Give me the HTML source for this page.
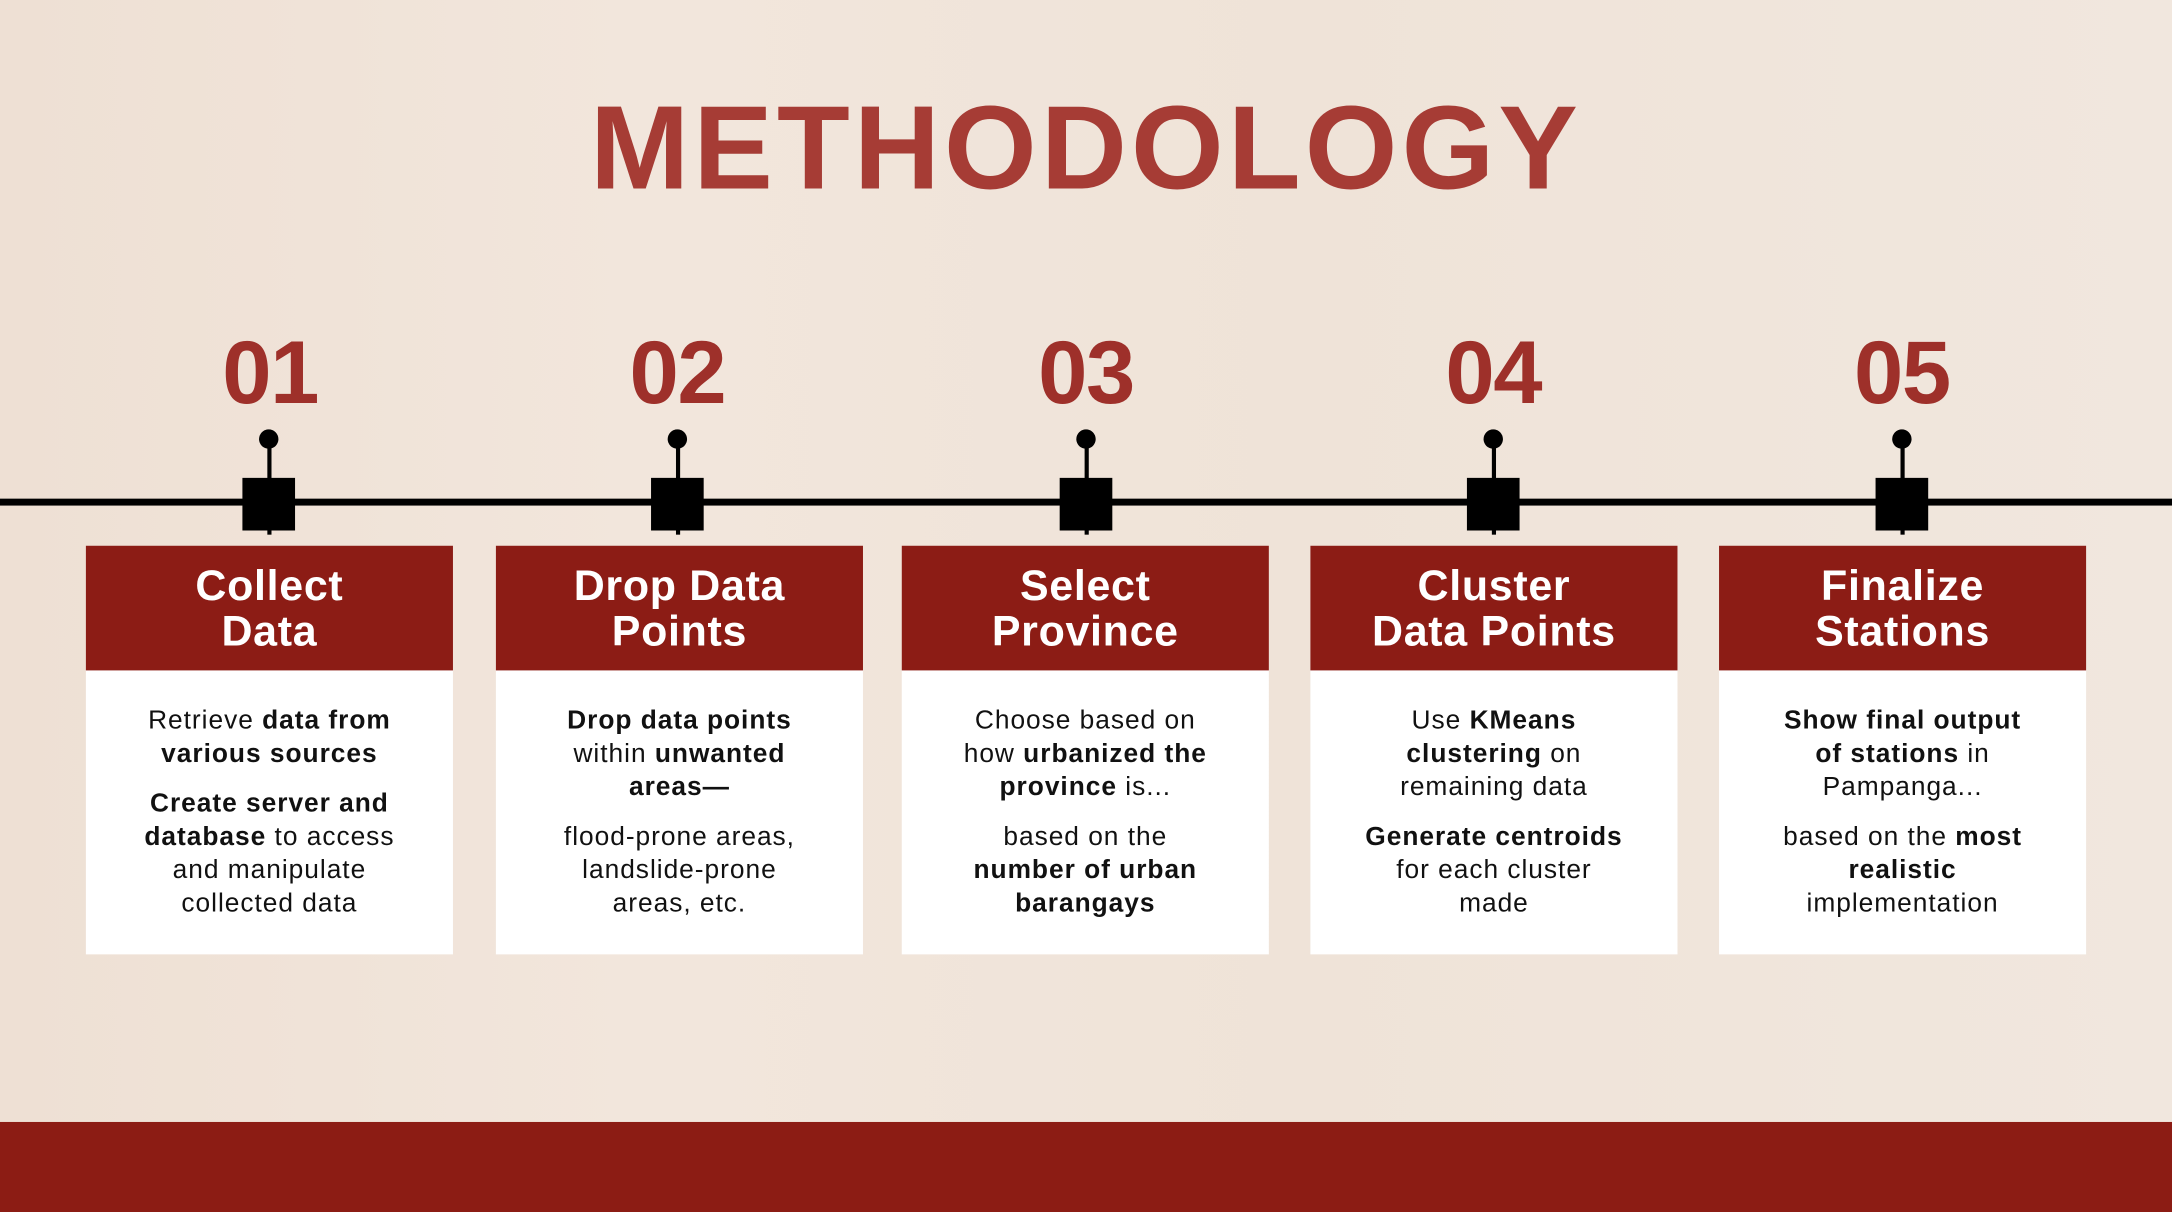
<!DOCTYPE html>
<html><head><meta charset="utf-8"><style>
html,body{margin:0;padding:0;width:2172px;height:1212px;overflow:hidden;}
#s{width:1568px;height:875px;transform:scale(1.38520,1.38514);transform-origin:0 0;position:relative;
background:linear-gradient(90deg,#eee0d4 0%,#f2e6dc 30%,#efe3d8 60%,#f1e7de 100%);font-family:"Liberation Sans",sans-serif;overflow:hidden;}
.t{position:absolute;left:0;width:1568px;top:58px;text-align:center;font-size:86px;font-weight:bold;color:#a63c35;letter-spacing:3px;}
.n{position:absolute;top:232px;width:200px;margin-left:-100px;text-align:center;font-size:64px;font-weight:bold;color:#9e302a;letter-spacing:-1px;}
.line{position:absolute;left:0;top:360px;width:1568px;height:5px;background:#000;}
.dot{position:absolute;top:310px;width:14px;height:14px;border-radius:50%;background:#000;margin-left:-7px;}
.stem{position:absolute;top:320px;width:3px;height:66px;background:#000;margin-left:-1.5px;}
.sq{position:absolute;top:345px;width:38px;height:38px;background:#000;margin-left:-19px;}
.card{position:absolute;top:394px;width:265px;height:295px;background:#fff;}
.h{height:90px;background:#8c1c15;color:#fff;font-weight:bold;font-size:31px;line-height:33px;text-align:center;display:flex;align-items:center;justify-content:center;letter-spacing:0.5px;}
.b{height:205px;display:flex;flex-direction:column;justify-content:center;align-items:center;text-align:center;font-size:19px;line-height:24px;color:#111;padding:0 26px;box-sizing:border-box;letter-spacing:0.7px;}
.b p{margin:0 0 12px 0;}.b p:last-child{margin:0;}
.bar{position:absolute;left:0;top:810px;width:1568px;height:65px;background:#8c1c14;}
</style></head><body><div id="s">
<div class="t">METHODOLOGY</div>
<div class="line"></div>
<div class="n" style="left:195px">01</div><div class="n" style="left:489px">02</div><div class="n" style="left:784px">03</div><div class="n" style="left:1078px">04</div><div class="n" style="left:1373px">05</div>
<div class="stem" style="left:194px"></div><div class="dot" style="left:194px"></div><div class="sq" style="left:194px"></div>
<div class="stem" style="left:489px"></div><div class="dot" style="left:489px"></div><div class="sq" style="left:489px"></div>
<div class="stem" style="left:784px"></div><div class="dot" style="left:784px"></div><div class="sq" style="left:784px"></div>
<div class="stem" style="left:1078px"></div><div class="dot" style="left:1078px"></div><div class="sq" style="left:1078px"></div>
<div class="stem" style="left:1373px"></div><div class="dot" style="left:1373px"></div><div class="sq" style="left:1373px"></div>
<div class="card" style="left:62px"><div class="h">Collect<br>Data</div><div class="b"><p>Retrieve <b>data from<br>various sources</b></p><p><b>Create server and<br>database</b> to access<br>and manipulate<br>collected data</p></div></div>
<div class="card" style="left:358px"><div class="h">Drop Data<br>Points</div><div class="b"><p><b>Drop data points</b><br>within <b>unwanted<br>areas—</b></p><p>flood-prone areas,<br>landslide-prone<br>areas, etc.</p></div></div>
<div class="card" style="left:651px"><div class="h">Select<br>Province</div><div class="b"><p>Choose based on<br>how <b>urbanized the<br>province</b> is...</p><p>based on the<br><b>number of urban<br>barangays</b></p></div></div>
<div class="card" style="left:946px"><div class="h">Cluster<br>Data Points</div><div class="b"><p>Use <b>KMeans<br>clustering</b> on<br>remaining data</p><p><b>Generate centroids</b><br>for each cluster<br>made</p></div></div>
<div class="card" style="left:1241px"><div class="h">Finalize<br>Stations</div><div class="b"><p><b>Show final output<br>of stations</b> in<br>Pampanga...</p><p>based on the <b>most<br>realistic</b><br>implementation</p></div></div>
<div class="bar"></div>
</div></body></html>
